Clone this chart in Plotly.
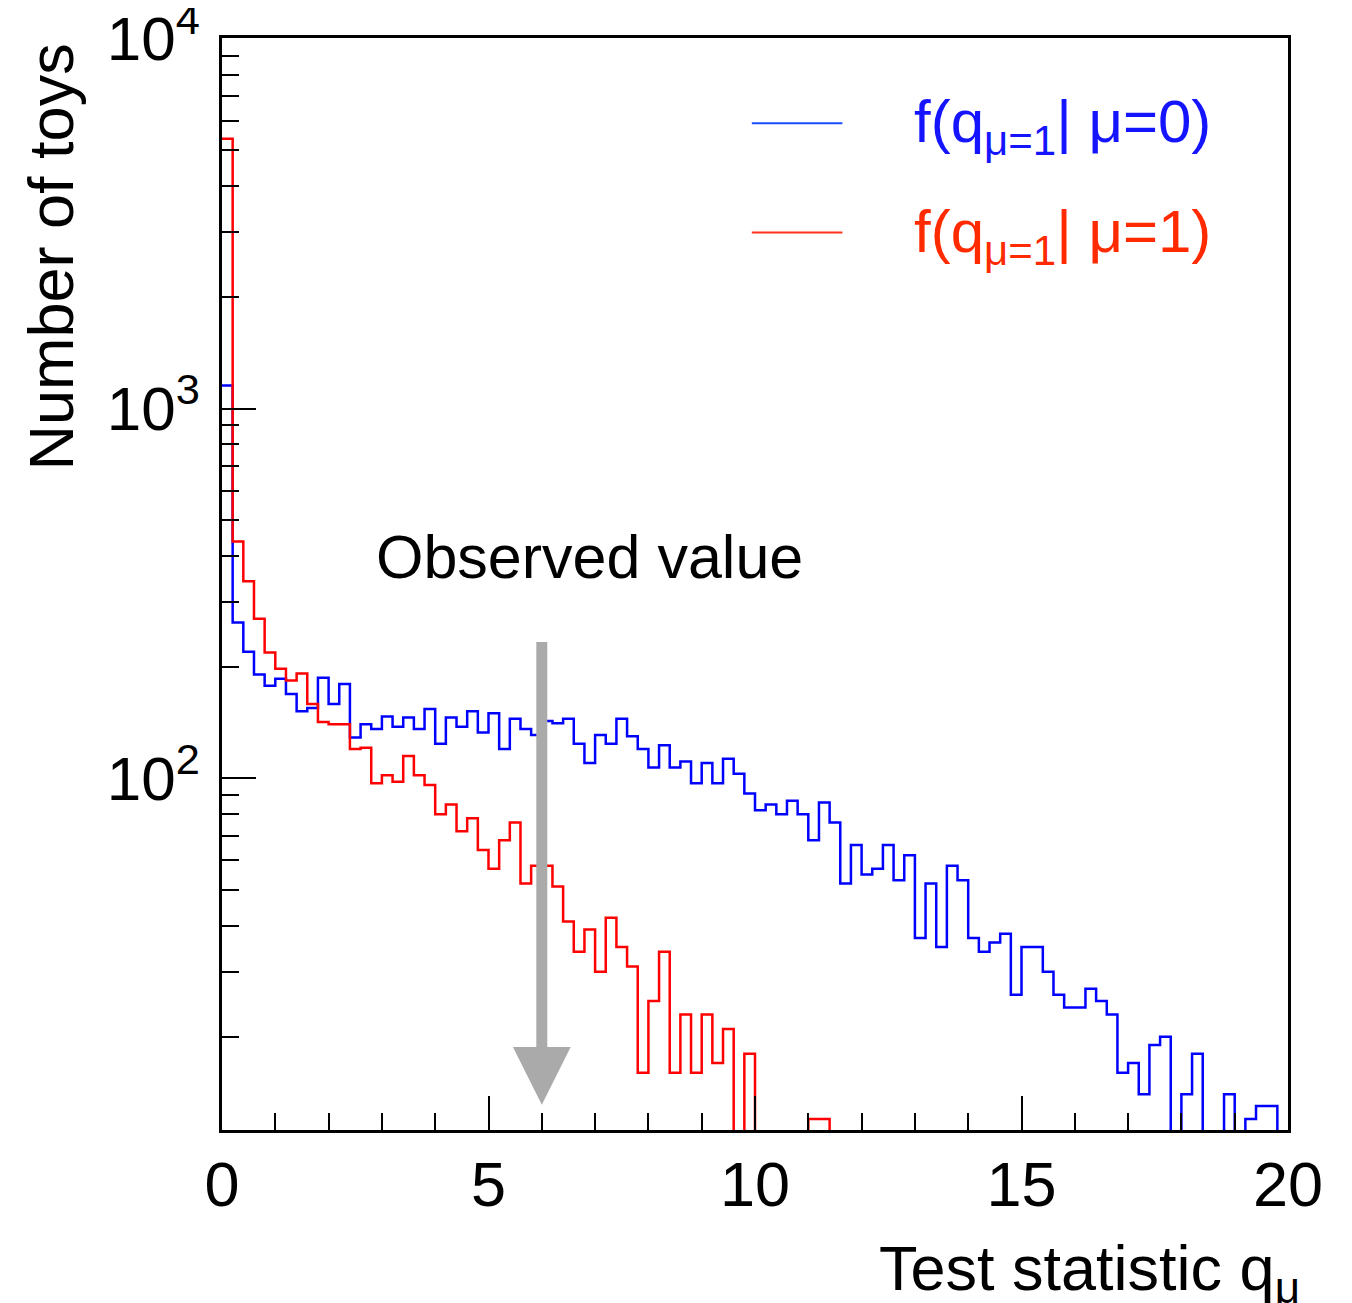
import numpy as np
import plotly.graph_objects as go

# ---------------- data ----------------
bin_edges = [round(0.2 * i, 1) for i in range(101)]

counts_mu0 = [1154, 264, 220, 191, 178, 186, 169, 152, 155, 187,
              159, 180, 129, 140, 136, 147, 138, 146, 136, 154,
              124, 146, 138, 152, 133, 150, 120, 145, 136, 131,
              143, 141, 145, 124, 110, 131, 124, 145, 130, 120,
              107, 123, 107, 111, 97, 110, 97, 113, 103, 91,
              82, 85, 80, 87, 80, 68, 86, 76, 52, 66,
              55, 57, 66, 53, 62, 37, 52, 35, 58, 53,
              37, 34, 36, 38, 26, 35, 35, 30, 26, 24,
              24, 27, 25, 23, 16, 17, 14, 19, 20, 0,
              14, 18, 0, 0, 14, 0, 12, 13, 13, 0]

counts_mu1 = [5366, 437, 341, 270, 219, 198, 184, 192, 159, 142,
              140, 140, 120, 121, 97, 102, 98, 115, 102, 96,
              80, 85, 72, 78, 64, 57, 68, 76, 52, 58,
              58, 51, 41, 34, 39, 30, 42, 35, 31, 16,
              25, 34, 16, 23, 16, 23, 17, 21, 0, 18,
              0, 0, 0, 0, 0, 12, 12, 0, 0, 0,
              0, 0, 0, 0, 0, 0, 0, 0, 0, 0,
              0, 0, 0, 0, 0, 0, 0, 0, 0, 0,
              0, 0, 0, 0, 0, 0, 0, 0, 0, 0,
              0, 0, 0, 0, 0, 0, 0, 0, 0, 0]

observed_value = 6.0
x_tick_vals = [0, 5, 10, 15, 20]
y_tick_vals = [100, 1000, 10000]
y_tick_text = ["10<sup>2</sup>", "10<sup>3</sup>", "10<sup>4</sup>"]
legend_labels = ["f(q<sub>\u03bc=1</sub>| \u03bc=0)", "f(q<sub>\u03bc=1</sub>| \u03bc=1)"]

# ---------------- styling ----------------
FONT = "Liberation Sans"
BLUE = "#0000ff"
RED = "#ff0000"
Y_MIN = 11.2
Y_MAX = 10000


def step_y(counts):
    c = np.asarray(counts, dtype=float)
    c = np.where(c > 0, c, 1.0)  # empty bins drawn below the axis floor
    return list(c) + [c[-1]]


fig = go.Figure()
fig.add_trace(go.Scatter(x=bin_edges, y=step_y(counts_mu0), mode="lines",
                         line=dict(color=BLUE, width=2.5, shape="hv"),
                         showlegend=False, name="mu=0"))
fig.add_trace(go.Scatter(x=bin_edges, y=step_y(counts_mu1), mode="lines",
                         line=dict(color=RED, width=2.5, shape="hv"),
                         showlegend=False, name="mu=1"))

minor_y = [m * 10 ** k for k in (1, 2, 3) for m in range(2, 10)]

fig.update_xaxes(range=[0, 20], showgrid=False, zeroline=False,
                 showline=True, linecolor="black", linewidth=2.5, mirror=True,
                 ticks="inside", tickvals=x_tick_vals, ticklen=34, tickwidth=2,
                 tickcolor="black",
                 minor=dict(ticks="inside", dtick=1, ticklen=17, tickwidth=2,
                            tickcolor="black", showgrid=False),
                 tickfont=dict(family=FONT, size=63, color="black"),
                 ticklabelstandoff=-2, ticklabeloverflow="allow",
                 automargin=False)
fig.update_yaxes(type="log", range=[np.log10(Y_MIN), np.log10(Y_MAX) + 0.002],
                 showgrid=False, zeroline=False,
                 showline=True, linecolor="black", linewidth=2.5, mirror=True,
                 ticks="inside", tickmode="array", tickvals=y_tick_vals,
                 ticktext=y_tick_text,
                 ticklen=34, tickwidth=2, tickcolor="black",
                 minor=dict(ticks="inside", tickmode="array", tickvals=minor_y,
                            ticklen=17, tickwidth=2, tickcolor="black",
                            showgrid=False),
                 tickfont=dict(family=FONT, size=62, color="black"),
                 ticklabelstandoff=7, ticklabeloverflow="allow",
                 automargin=False)

annotations = [
    # axis titles
    dict(text="Number of toys", textangle=-90, xref="paper", yref="paper",
         x=0, y=1, xanchor="center", yanchor="top", xshift=-172, yshift=-4,
         showarrow=False, font=dict(family=FONT, size=63, color="black")),
    dict(text="Test statistic q<sub>\u03bc</sub>", xref="paper", yref="paper",
         x=1, y=0, xanchor="right", yanchor="top", xshift=14, yshift=-101,
         showarrow=False, font=dict(family=FONT, size=63, color="black")),
    # observed value label
    dict(text="Observed value", xref="paper", yref="paper",
         x=0.345, y=0.5247, xanchor="center", yanchor="middle",
         showarrow=False, font=dict(family=FONT, size=61, color="black")),
    # arrow
    dict(text="", x=observed_value, y=np.log10(13.1), xref="x", yref="y",
         ax=observed_value, ay=np.log10(236), axref="x", ayref="y",
         showarrow=True, arrowhead=2, arrowwidth=11, arrowsize=1.05,
         arrowcolor="#aaaaaa", standoff=0),
    # legend texts
    dict(text=legend_labels[0], xref="paper", yref="paper",
         x=0.647, y=0.919, xanchor="left", yanchor="middle",
         showarrow=False, font=dict(family=FONT, size=60, color="#1414ff")),
    dict(text=legend_labels[1], xref="paper", yref="paper",
         x=0.647, y=0.819, xanchor="left", yanchor="middle",
         showarrow=False, font=dict(family=FONT, size=60, color="#ff2a00")),
]

shapes = [
    dict(type="line", xref="paper", yref="paper", x0=0.497, x1=0.582,
         y0=0.922, y1=0.922, line=dict(color="#1a4dff", width=2)),
    dict(type="line", xref="paper", yref="paper", x0=0.497, x1=0.582,
         y0=0.822, y1=0.822, line=dict(color="#ff3319", width=2)),
]

# the page adds an 8 px body margin, so the figure is 8 px smaller and
# its margins are reduced accordingly to keep the plot box in place
fig.update_layout(width=1344, height=1295,
                  margin=dict(l=214, r=64, t=30, b=173, autoexpand=False),
                  paper_bgcolor="white", plot_bgcolor="white",
                  annotations=annotations, shapes=shapes,
                  showlegend=False)

fig.write_html("out.html")
